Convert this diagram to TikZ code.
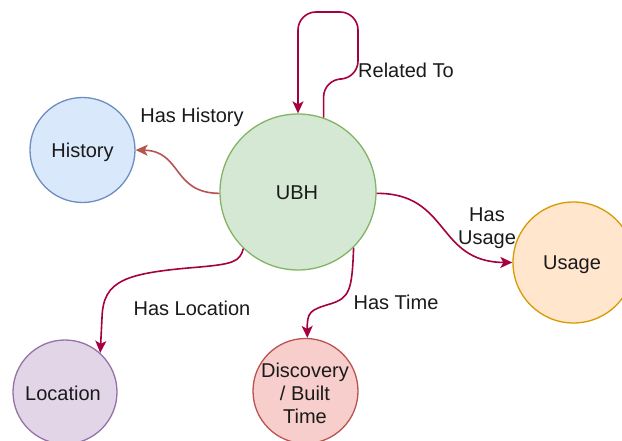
\documentclass[tikz,border=0pt]{standalone}
\usepackage{fontspec}
\setmainfont{Liberation Sans}
\usetikzlibrary{arrows.meta}

\definecolor{ubhfill}{HTML}{D5E8D4}\definecolor{ubhline}{HTML}{82B366}
\definecolor{histfill}{HTML}{DAE8FC}\definecolor{histline}{HTML}{6C8EBF}
\definecolor{usefill}{HTML}{FFE6CC}\definecolor{useline}{HTML}{D79B00}
\definecolor{locfill}{HTML}{E1D5E7}\definecolor{locline}{HTML}{9673A6}
\definecolor{timefill}{HTML}{F8CECC}\definecolor{timeline}{HTML}{B85450}
\definecolor{relcol}{HTML}{A50040}
\definecolor{textcol}{HTML}{1A1A1A}

\tikzset{
  concept/.style={circle, inner sep=0pt, line width=1.3pt},
  lbl/.style={inner sep=0pt, text=textcol, align=center,
    font=\fontsize{20}{23}\selectfont},
  rel/.style={draw=relcol, line width=1.6pt,
    -{Stealth[length=12pt,width=11pt,inset=3pt]}},
}

\begin{document}
\begin{tikzpicture}[x=1pt, y=-1pt]
  \clip (0,0) rectangle (622,441);
  \fill[white] (0,0) rectangle (622,441);

  % concept circles
  \node[concept, fill=ubhfill,  draw=ubhline,  minimum size=156pt] (ubh)  at (298,192) {};
  \node[concept, fill=histfill, draw=histline, minimum size=105pt] (hist) at (82.5,150) {};
  \node[concept, fill=usefill,  draw=useline,  minimum size=121pt] (use)  at (573.5,262.5) {};
  \node[concept, fill=locfill,  draw=locline,  minimum size=104pt] (loc)  at (65,392) {};
  \node[concept, fill=timefill, draw=timeline, minimum size=105pt] (disc) at (305.5,391) {};

  % circle captions
  \node[lbl] (ubhT)  at (297,193) {UBH};
  \node[lbl] (histT) at (82.5,152.5) {History};
  \node[lbl] (useT)  at (572,264.5) {Usage};
  \node[lbl] (locT)  at (63,393) {Location};
  \node[lbl] (discT) at (305,393) {Discovery\\/ Built\\Time};

  % relations
  \draw[rel, draw=timeline] (ubh.181) .. controls (172,193) and (182,151) .. (hist.east);
  \draw[rel, rounded corners=18pt] (ubh.71) |- (358,79) -- (358,12) -| (ubh.north);
  \draw[rel] (ubh.-1) .. controls (450,193) and (436,262) .. (use.west);
  \draw[rel] (ubh.-134) .. controls (240,262) and (232,264) .. (200,267)
                        .. controls (125,273) and (103,280) .. (102,318)
                        -- (loc.48);
  \draw[rel] (ubh.-45) .. controls (352,290) and (350,298) .. (330,304)
                       .. controls (310,310) and (307,312) .. (disc.88);

  % relation labels
  \node[lbl] (lHist) at (192,117) {Has History};
  \node[lbl] (lRel)  at (406,70)  {Related To};
  \node[lbl] (lUse)  at (487,228) {Has\\Usage};
  \node[lbl] (lLoc)  at (192,308) {Has Location};
  \node[lbl] (lTime) at (396,302) {Has Time};
\end{tikzpicture}
\end{document}
